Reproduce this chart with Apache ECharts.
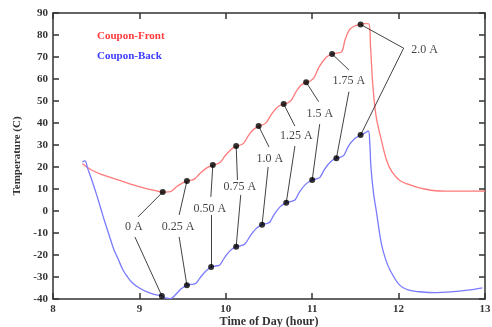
<!DOCTYPE html>
<html>
<head>
<meta charset="utf-8">
<script src="https://cdn.jsdelivr.net/npm/echarts@6/dist/echarts.min.js"></script>
<style>
  html, body { margin: 0; padding: 0; background: #fff; }
  #chart { width: 492px; height: 327px; }
</style>
</head>
<body>
<div id="chart"></div>
<script>
// curves: [time of day (hour), temperature (C)]
const frontCurve = [
  [8.34, 21.5], [8.40, 19.8], [8.47, 18.2], [8.55, 16.8], [8.63, 15.7], [8.70, 14.8],
  [8.78, 13.8], [8.87, 12.6], [8.97, 11.4], [9.07, 10.3], [9.16, 9.5], [9.27, 8.6], [9.33, 8.7],
  [9.37, 9.0], [9.43, 11.0], [9.51, 13.0], [9.55, 13.6], [9.60, 14.0], [9.64, 14.6],
  [9.70, 17.0], [9.78, 19.6], [9.85, 20.9], [9.90, 21.4], [9.94, 22.3], [9.99, 25.0],
  [10.06, 28.0], [10.12, 29.5], [10.17, 30.0], [10.21, 31.0], [10.26, 34.2], [10.32, 37.0],
  [10.38, 38.6], [10.43, 39.2], [10.47, 40.3], [10.53, 44.0], [10.60, 47.3], [10.67, 48.6],
  [10.72, 49.2], [10.76, 50.5], [10.81, 54.0], [10.87, 57.2], [10.93, 58.5], [10.98, 59.2],
  [11.02, 60.5], [11.08, 65.5], [11.16, 69.8], [11.23, 71.4], [11.28, 71.8], [11.34, 72.3],
  [11.38, 77.7], [11.43, 82.3], [11.49, 84.1], [11.56, 84.8], [11.60, 85.2], [11.655, 85.1],
  [11.675, 75.0], [11.70, 58.0], [11.74, 43.0], [11.80, 32.3], [11.86, 23.2], [11.92, 18.0],
  [12.01, 14.0], [12.10, 12.3], [12.20, 11.0], [12.30, 10.0], [12.43, 9.2], [12.60, 9.0],
  [12.80, 9.0], [13.00, 9.1]
];
const backCurve = [
  [8.34, 22.3], [8.37, 22.8], [8.40, 19.5], [8.45, 14.0], [8.50, 8.0], [8.55, 1.5],
  [8.60, -5.0], [8.65, -11.0], [8.70, -17.0], [8.75, -21.5], [8.81, -26.8], [8.86, -29.8],
  [8.92, -32.7], [9.00, -35.0], [9.09, -36.8], [9.18, -38.0], [9.26, -38.6], [9.30, -39.5],
  [9.36, -39.8], [9.42, -38.0], [9.48, -35.5], [9.55, -33.8], [9.60, -33.4], [9.65, -33.0],
  [9.70, -30.5], [9.77, -27.3], [9.83, -25.5], [9.88, -25.0], [9.93, -24.5], [9.98, -21.5],
  [10.05, -18.0], [10.12, -16.2], [10.17, -15.8], [10.22, -15.0], [10.28, -11.5], [10.35, -8.0],
  [10.42, -6.2], [10.47, -5.7], [10.51, -5.0], [10.56, -1.5], [10.63, 2.0], [10.70, 3.8],
  [10.75, 4.3], [10.80, 5.0], [10.85, 8.5], [10.92, 12.0], [11.00, 14.1], [11.05, 14.6],
  [11.09, 15.3], [11.14, 18.8], [11.21, 22.3], [11.28, 24.0], [11.33, 24.5], [11.37, 25.5],
  [11.42, 29.5], [11.49, 32.8], [11.56, 34.5], [11.61, 35.5], [11.65, 36.4], [11.665, 32.0],
  [11.68, 20.0], [11.71, 8.0], [11.74, 0.5], [11.80, -14.7], [11.85, -22.0], [11.90, -26.8],
  [12.01, -33.6], [12.12, -36.0], [12.24, -36.7], [12.43, -37.1], [12.60, -36.8], [12.80, -36.0],
  [12.97, -34.9]
];

// current steps and where they were marked
const currents = ['0 A', '0.25 A', '0.50 A', '0.75 A', '1.0 A', '1.25 A', '1.5 A', '1.75 A', '2.0 A'];
const frontDotTime = [9.27, 9.55, 9.85, 10.12, 10.38, 10.67, 10.93, 11.23, 11.56];
const frontDotTemp = [8.6, 13.6, 20.9, 29.5, 38.6, 48.6, 58.5, 71.4, 84.8];
const backDotTime = [9.26, 9.55, 9.83, 10.12, 10.42, 10.70, 11.00, 11.28, 11.56];
const backDotTemp = [-38.6, -33.8, -25.5, -16.2, -6.2, 3.8, 14.1, 24.0, 34.5];

// annotation text anchors and leader-line start points (data coords)
const labelTime = [8.936, 9.449, 9.815, 10.162, 10.509, 10.817, 11.087, 11.425, 12.30];
const labelTemp = [-7.3, -7.4, 0.8, 11.0, 23.5, 34.2, 44.0, 59.2, 73.2];
const upLeadTime = [8.983, 9.46, 9.827, 10.135, 10.50, 10.80, 11.075, 11.425, 12.058];
const upLeadTemp = [-2.7, -1.8, 6.4, 14.1, 29.1, 38.6, 49.7, 64.1, 74.0];
const downLeadTime = [8.948, 9.46, 9.827, 10.173, 10.49, 10.80, 11.087, 11.425, 12.058];
const downLeadTemp = [-11.8, -11.8, -1.8, 7.3, 20.0, 29.5, 39.5, 54.2, 74.0];

const serif = '"Liberation Serif", "Times New Roman", serif';
const axisColor = '#333';

var chart = echarts.init(document.getElementById('chart'));

var dots = [];
var leaders = [];
currents.forEach(function (c, i) {
  dots.push([frontDotTime[i], frontDotTemp[i]]);
  dots.push([backDotTime[i], backDotTemp[i]]);
  leaders.push([{ coord: [upLeadTime[i], upLeadTemp[i]] }, { coord: [frontDotTime[i], frontDotTemp[i]] }]);
  leaders.push([{ coord: [downLeadTime[i], downLeadTemp[i]] }, { coord: [backDotTime[i], backDotTemp[i]] }]);
});
var labels = currents.map(function (c, i) {
  return { name: c, value: [labelTime[i], labelTemp[i]] };
});

function frameAxis(pos, extra) {
  var a = {
    type: 'value', position: pos,
    axisLine: { show: true, onZero: false, lineStyle: { color: axisColor, width: 1.5 } },
    axisTick: { show: true, inside: true, length: 6, lineStyle: { color: axisColor, width: 1.5 } },
    axisLabel: { show: false },
    splitLine: { show: false }
  };
  return Object.assign(a, extra);
}

var option = {
  animation: false,
  grid: { left: 53, right: 7, top: 13, bottom: 28, containLabel: false, outerBoundsMode: 'none' },
  graphic: [
    { type: 'text', left: 97, top: 31,
      style: { text: 'Coupon-Front', fill: '#ff3b3b', font: 'bold 11px ' + serif } },
    { type: 'text', left: 97, top: 51,
      style: { text: 'Coupon-Back', fill: '#3b3bff', font: 'bold 11px ' + serif } }
  ],
  xAxis: [
    frameAxis('bottom', {
      min: 8, max: 13, interval: 1,
      name: 'Time of Day (hour)', nameLocation: 'middle', nameGap: 17, nameMoveOverlap: false,
      nameTextStyle: { fontFamily: serif, fontWeight: 'bold', fontSize: 12, color: '#333', verticalAlign: 'top' },
      axisLabel: { show: true, fontFamily: serif, fontWeight: 'bold', fontSize: 11, color: '#333', margin: 5 }
    }),
    frameAxis('top', { min: 8, max: 13, interval: 1 })
  ],
  yAxis: [
    frameAxis('left', {
      min: -40, max: 90, interval: 10,
      name: 'Temperature (C)', nameLocation: 'middle', nameGap: 30, nameMoveOverlap: false,
      nameTextStyle: { fontFamily: serif, fontWeight: 'bold', fontSize: 11, color: '#333' },
      axisLabel: { show: true, fontFamily: serif, fontWeight: 'bold', fontSize: 11, color: '#333', margin: 5 }
    }),
    frameAxis('right', { min: -40, max: 90, interval: 10 })
  ],
  series: [
    {
      name: 'Coupon-Front', type: 'line', data: frontCurve, showSymbol: false,
      smooth: 0.35,
      lineStyle: { color: '#ff7a7a', width: 1.3 }
    },
    {
      name: 'Coupon-Back', type: 'line', data: backCurve, showSymbol: false,
      smooth: 0.35,
      lineStyle: { color: '#7a7aff', width: 1.3 }
    },
    {
      name: 'steps', type: 'scatter', data: dots, symbolSize: 6, z: 5,
      itemStyle: { color: '#000' },
      markLine: {
        silent: true, symbol: ['none', 'none'],
        lineStyle: { color: '#111', width: 0.8, type: 'solid' },
        label: { show: false },
        data: leaders
      }
    },
    {
      name: 'labels', type: 'scatter', data: labels, symbolSize: 0,
      label: {
        show: true, position: 'inside', formatter: '{b}',
        fontFamily: serif, fontSize: 12, color: '#111'
      }
    }
  ]
};
chart.setOption(option);
</script>
</body>
</html>
